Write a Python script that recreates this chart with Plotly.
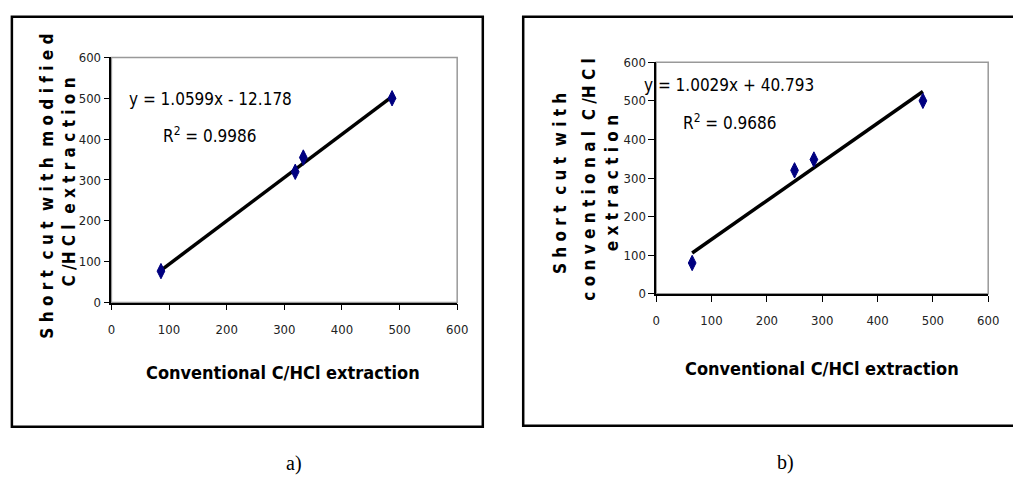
import plotly.graph_objects as go

W, H = 1013, 486

# ---- data ----
a_x = [86, 319, 333, 487]
a_y = [77, 320, 355, 500]
a_slope, a_icpt = 1.0599, -12.178
b_x = [65, 250, 285, 482]
b_y = [80, 320, 348, 500]
b_slope, b_icpt = 1.0029, 40.793
x_ticks = [0, 100, 200, 300, 400, 500, 600]
y_ticks = [0, 100, 200, 300, 400, 500, 600]
x_title = "Conventional C/HCl extraction"
a_ytitle = ["S h o r t  c u t  w i t h  m o d i f i e d", "C /H C l  e x t r a c t i o n"]
b_ytitle = ["S h o r t  c u t  w i t h", "c o n v e n t i o n a l  C /H C l", "e x t r a c t i o n"]
a_eq = "y = 1.0599x - 12.178"
a_r2 = "R<sup>2</sup> = 0.9986"
b_eq = "y = 1.0029x + 40.793"
b_r2 = "R<sup>2</sup> = 0.9686"

NARROW = "DejaVu Sans Condensed"
SERIF = "Liberation Serif, Times New Roman, serif"

def px(x):
    return x / W

def py(y):
    return 1 - y / H

fig = go.Figure()

def trend(xs, m, c):
    lo, hi = min(xs), max(xs)
    return [lo, hi], [m * lo + c, m * hi + c]

mk = dict(symbol="diamond-tall", size=11, color="#000080", line=dict(color="#000080", width=1))

tx, ty = trend(a_x, a_slope, a_icpt)
fig.add_trace(go.Scatter(x=tx, y=ty, mode="lines", line=dict(color="black", width=3.5),
                         xaxis="x", yaxis="y", showlegend=False, hoverinfo="skip"))
fig.add_trace(go.Scatter(x=a_x, y=a_y, mode="markers", marker=mk,
                         xaxis="x", yaxis="y", showlegend=False))
tx, ty = trend(b_x, b_slope, b_icpt)
fig.add_trace(go.Scatter(x=tx, y=ty, mode="lines", line=dict(color="black", width=3.5),
                         xaxis="x2", yaxis="y2", showlegend=False, hoverinfo="skip"))
fig.add_trace(go.Scatter(x=b_x, y=b_y, mode="markers", marker=mk,
                         xaxis="x2", yaxis="y2", showlegend=False))

tickfont = dict(family=NARROW, size=13, color="#222")
common = dict(range=[0, 600], tickvals=x_ticks, showgrid=False, zeroline=False,
              showline=True, linecolor="black", linewidth=1.5, ticks="outside",
              ticklen=6, tickcolor="black", tickwidth=1.2, tickfont=tickfont,
              fixedrange=True)

fig.update_layout(
    width=W, height=H, margin=dict(l=0, r=0, t=0, b=0),
    paper_bgcolor="white", plot_bgcolor="white",
    xaxis=dict(domain=[px(109), px(460)], anchor="y", ticklabelstandoff=8, **common),
    yaxis=dict(domain=[py(305), py(52)], anchor="x", **{**common, "tickvals": y_ticks}),
    xaxis2=dict(domain=[px(662), px(999)], anchor="y2", ticklabelstandoff=8, **common),
    yaxis2=dict(domain=[py(296), py(57)], anchor="x2", **{**common, "tickvals": y_ticks}),
)

shapes = []
shapes.append(dict(type="rect", xref="x domain", yref="y domain", x0=0, x1=1, y0=0, y1=1,
                   line=dict(color="#999999", width=1.5), layer="below"))
shapes.append(dict(type="rect", xref="x2 domain", yref="y2 domain", x0=0, x1=1, y0=0, y1=1,
                   line=dict(color="#999999", width=1.5), layer="below"))
shapes.append(dict(type="rect", xref="paper", yref="paper", x0=px(8), x1=px(486),
                   y0=py(433), y1=py(10), line=dict(color="black", width=2.5)))
shapes.append(dict(type="rect", xref="paper", yref="paper", x0=px(527), x1=px(1030),
                   y0=py(432), y1=py(10), line=dict(color="black", width=2.5)))
fig.update_layout(shapes=shapes)

ann = []
def text(x, y, s, size, family=NARROW, bold=False, angle=0):
    if bold:
        s = "<b>" + s + "</b>"
    ann.append(dict(x=px(x), y=py(y), xref="paper", yref="paper", text=s, showarrow=False,
                    font=dict(family=family, size=size, color="black"), textangle=angle,
                    xanchor="center", yanchor="middle"))

text(283, 377, x_title, 18, bold=True)
text(830, 373, x_title, 18, bold=True)
text(44, 185, a_ytitle[0], 17, bold=True, angle=-90)
text(66, 181, a_ytitle[1], 17, bold=True, angle=-90)
text(565, 182, b_ytitle[0], 17, bold=True, angle=-90)
text(593, 178, b_ytitle[1], 17, bold=True, angle=-90)
text(618, 182, b_ytitle[2], 17, bold=True, angle=-90)
text(210, 95, a_eq, 17)
text(209, 132, a_r2, 17)
text(736, 80, b_eq, 17)
text(736, 119, b_r2, 17)
text(294, 471, "a)", 20, family=SERIF)
text(793, 470, "b)", 20, family=SERIF)
fig.update_layout(annotations=ann)

fig.write_html("out.html", config={"displayModeBar": False},
               post_script="document.body.style.margin='0';document.body.style.overflow='hidden';")
